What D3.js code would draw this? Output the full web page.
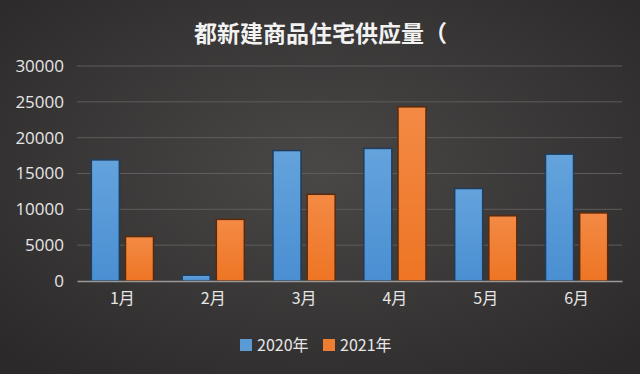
<!DOCTYPE html>
<html>
<head>
<meta charset="utf-8">
<script src="https://cdn.jsdelivr.net/npm/d3@7"></script>
<style>
  body { margin: 0; background: #333; }
  svg { display: block; }
</style>
</head>
<body>
<div id="chart"></div>
<script>
// data
var months = ["1月", "2月", "3月", "4月", "5月", "6月"];
var series = ["2020年", "2021年"];
var values2020 = [16900, 800, 18200, 18500, 12900, 17700];
var values2021 = [6200, 8600, 12100, 24300, 9100, 9500];
var yTicks = [0, 5000, 10000, 15000, 20000, 25000, 30000];
var title = "都新建商品住宅供应量（";

var W = 640, H = 374;
var margin = {top: 66, right: 18, bottom: 93, left: 77};
var width = W - margin.left - margin.right;
var height = H - margin.top - margin.bottom;

var rows = months.map(function(m, i) {
  return {month: m, vals: [values2020[i], values2021[i]]};
});

var svg = d3.select("#chart").append("svg")
  .attr("width", W)
  .attr("height", H);

var defs = svg.append("defs");
var bg = defs.append("radialGradient").attr("id", "bg")
  .attr("cx", "50%").attr("cy", "45%").attr("r", "70%");
bg.append("stop").attr("offset", "0%").attr("stop-color", "#4a4747");
bg.append("stop").attr("offset", "100%").attr("stop-color", "#2b2929");

var blueGrad = defs.append("linearGradient").attr("id", "blueGrad")
  .attr("x1", 0).attr("y1", 0).attr("x2", 0).attr("y2", 1);
blueGrad.append("stop").attr("offset", "0%").attr("stop-color", "#64a3dc");
blueGrad.append("stop").attr("offset", "100%").attr("stop-color", "#4a8fd2");
var orangeGrad = defs.append("linearGradient").attr("id", "orangeGrad")
  .attr("x1", 0).attr("y1", 0).attr("x2", 0).attr("y2", 1);
orangeGrad.append("stop").attr("offset", "0%").attr("stop-color", "#f38a45");
orangeGrad.append("stop").attr("offset", "100%").attr("stop-color", "#ee7524");

svg.append("rect").attr("width", W).attr("height", H).attr("fill", "url(#bg)");

var fills = ["url(#blueGrad)", "url(#orangeGrad)"];
var keyColors = ["#5b9bd5", "#ed7d31"];
var edgeColors = ["#1f3d5c", "#5a2a0c"];

var g = svg.append("g")
  .attr("transform", "translate(" + margin.left + "," + margin.top + ")");

var x = d3.scaleBand().domain(months).range([0, width]).paddingInner(0).paddingOuter(0);
var x1 = d3.scaleBand().domain(series).range([0, x.bandwidth()]).paddingInner(0.18).paddingOuter(0.42);
var y = d3.scaleLinear().domain([0, 30000]).range([height, 0]);

// gridlines
g.append("g")
  .selectAll("line")
  .data(yTicks.slice(1))
  .enter().append("line")
  .attr("x1", 0).attr("x2", width)
  .attr("y1", function(d) { return y(d); })
  .attr("y2", function(d) { return y(d); })
  .attr("stroke", "#5e5c5c")
  .attr("stroke-width", 1);

// y axis
var yAxis = g.append("g")
  .call(d3.axisLeft(y).tickValues(yTicks).tickFormat(d3.format("d")).tickSize(0).tickPadding(13));
yAxis.select(".domain").remove();
yAxis.selectAll("text")
  .attr("fill", "#e6e6e6")
  .style("font-family", "'Open Sans', 'Noto Sans', sans-serif")
  .style("font-size", "17px");

// bars
var groups = g.selectAll(".grp")
  .data(rows)
  .enter().append("g")
  .attr("class", "grp")
  .attr("transform", function(d) { return "translate(" + x(d.month) + ",0)"; });

groups.selectAll("rect")
  .data(function(d) { return d.vals.map(function(v, i) { return {s: series[i], v: v, i: i}; }); })
  .enter().append("rect")
  .attr("x", function(d) { return x1(d.s); })
  .attr("y", function(d) { return y(d.v); })
  .attr("width", x1.bandwidth())
  .attr("height", function(d) { return height - y(d.v); })
  .attr("fill", function(d) { return fills[d.i]; })
  .attr("stroke", function(d) { return edgeColors[d.i]; })
  .attr("stroke-width", 1.5);

// x axis
var xAxis = g.append("g")
  .attr("transform", "translate(0," + height + ")")
  .call(d3.axisBottom(x).tickSize(0).tickPadding(12));
xAxis.select(".domain")
  .attr("stroke", "#9a9898")
  .attr("stroke-width", 1.5);
xAxis.selectAll("text")
  .attr("fill", "#e6e6e6")
  .style("font-family", "'Noto Sans CJK SC', sans-serif")
  .style("font-size", "16px");

// title
svg.append("text")
  .attr("x", 194)
  .attr("y", 42)
  .attr("fill", "#f2f2f2")
  .style("font-family", "'Noto Sans CJK SC', sans-serif")
  .style("font-weight", "bold")
  .style("font-size", "23px")
  .text(title);

// legend
var legendX = [240, 323];
var legend = svg.append("g");
var items = legend.selectAll("g")
  .data(series)
  .enter().append("g")
  .attr("transform", function(d, i) { return "translate(" + legendX[i] + ",339)"; });
items.append("rect")
  .attr("width", 12).attr("height", 12)
  .attr("fill", function(d, i) { return keyColors[i]; });
items.append("text")
  .attr("x", 17).attr("y", 12)
  .attr("fill", "#e6e6e6")
  .style("font-family", "'Noto Sans CJK SC', sans-serif")
  .style("font-size", "16px")
  .text(function(d) { return d; });
</script>
</body>
</html>
